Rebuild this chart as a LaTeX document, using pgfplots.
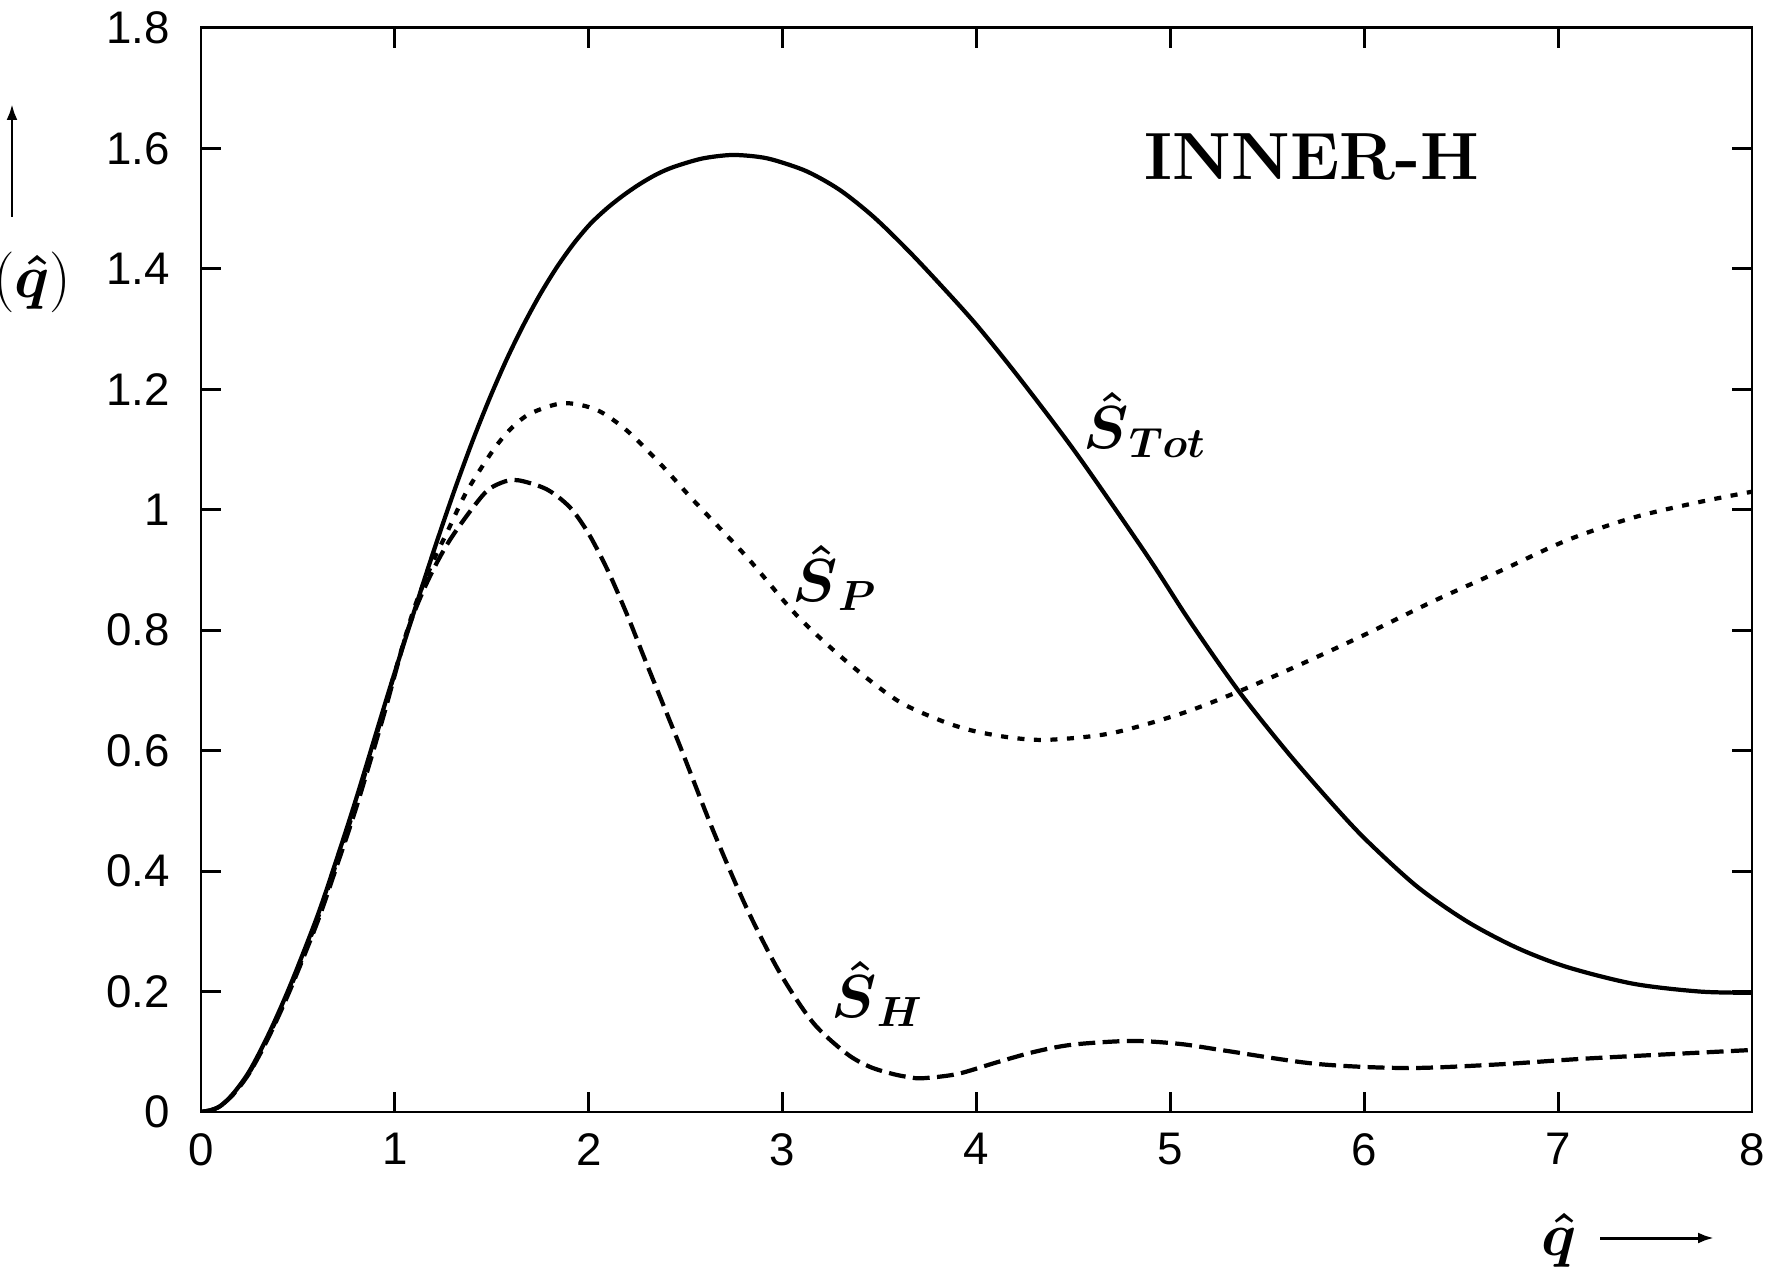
\documentclass[border=0pt]{standalone}
\usepackage{fontspec}
\usepackage{amsmath,amssymb}
\usepackage{pgfplots}
\pgfplotsset{compat=1.18}
\usetikzlibrary{arrows.meta}
\newfontfamily\tickfont{Liberation Sans}

\begin{document}
\begin{tikzpicture}
\begin{axis}[
  at={(0,0)}, anchor=south west,
  scale only axis,
  width=155.1mm, height=108.4mm,
  xmin=0, xmax=8, ymin=0, ymax=1.8,
  xtick={0,1,2,3,4,5,6,7,8},
  ytick={0,0.2,0.4,0.6,0.8,1,1.2,1.4,1.6,1.8},
  tick align=inside,
  major tick length=2mm,
  minor tick num=0,
  axis line style={line width=0.85pt},
  every tick/.style={black,line width=0.85pt},
  tick label style={font=\tickfont\fontsize{13}{15}\selectfont},
  /pgf/number format/assume math mode=true,
  xticklabel style={yshift=-0.9mm},
  yticklabel style={xshift=-1.9mm},
]
% S_Tot
\addplot[black, line width=1.2pt, smooth] coordinates {
(0,0) (0.05,0.003) (0.1,0.010) (0.165,0.030) (0.25,0.068) (0.35,0.13) (0.46,0.21)
(0.6,0.325) (0.7,0.42) (0.805,0.525) (0.978,0.708) (1.15,0.882) (1.233,0.963)
(1.318,1.042) (1.404,1.117) (1.49,1.186) (1.577,1.250) (1.662,1.306) (1.748,1.357)
(1.834,1.402) (1.92,1.441) (2.006,1.474) (2.092,1.500) (2.178,1.522) (2.264,1.541)
(2.35,1.557) (2.436,1.569) (2.582,1.583) (2.728,1.589) (2.85,1.587) (2.952,1.581)
(3.124,1.562) (3.295,1.531) (3.467,1.487) (3.64,1.433) (3.81,1.375) (4.0,1.307)
(4.223,1.218) (4.514,1.094) (4.878,0.925) (5.1,0.815) (5.35,0.700) (5.605,0.597)
(5.84,0.510) (6.012,0.451) (6.27,0.375) (6.527,0.317) (6.785,0.273) (7.043,0.241)
(7.387,0.213) (7.731,0.200) (8.0,0.198)};
% S_P
\addplot[black, line width=1.2pt, smooth, dash pattern=on 2pt off 2.7pt] coordinates {
(0,0) (0.05,0.003) (0.1,0.010) (0.165,0.029) (0.25,0.066) (0.35,0.127) (0.46,0.206)
(0.6,0.32) (0.7,0.415) (0.805,0.518) (0.95,0.675) (1.095,0.832) (1.198,0.915)
(1.267,0.961) (1.37,1.03) (1.507,1.099) (1.6,1.135) (1.7,1.160) (1.87,1.177)
(2.04,1.166) (2.195,1.132) (2.367,1.077) (2.539,1.016) (2.814,0.922) (3.072,0.825)
(3.33,0.748) (3.588,0.684) (3.8,0.652) (3.969,0.634) (4.17,0.622) (4.369,0.618)
(4.696,0.629) (5.06,0.662) (5.35,0.698) (5.67,0.743) (6.012,0.794) (6.355,0.848)
(6.699,0.898) (7.043,0.949) (7.387,0.987) (7.731,1.013) (8.0,1.03)};
% S_H
\addplot[black, line width=1.2pt, smooth, dash pattern=on 4.8pt off 2.1pt] coordinates {
(0,0) (0.05,0.003) (0.1,0.010) (0.165,0.029) (0.25,0.065) (0.35,0.125) (0.46,0.203)
(0.6,0.315) (0.7,0.408) (0.805,0.51) (0.94,0.656) (1.061,0.795) (1.164,0.878)
(1.284,0.95) (1.456,1.025) (1.55,1.045) (1.636,1.049) (1.783,1.034) (1.903,1.004)
(2.0,0.960) (2.1,0.898) (2.2,0.824) (2.299,0.744) (2.47,0.608) (2.642,0.467)
(2.814,0.339) (2.986,0.231) (3.158,0.148) (3.33,0.097) (3.45,0.075) (3.57,0.063)
(3.65,0.058) (3.72,0.056) (3.9,0.063) (4.1,0.082) (4.3,0.100) (4.5,0.112)
(4.8,0.118) (5.05,0.113) (5.28,0.102) (5.75,0.080) (6.22,0.073) (6.69,0.079)
(7.16,0.089) (8.0,0.103)};

\node at (axis cs:5.73,1.586) {\fontsize{19}{23}\selectfont\textbf{INNER-H}};
\node at (axis cs:4.87,1.141) {\fontsize{18}{22}\selectfont$\boldsymbol{\hat{S}}_{\boldsymbol{Tot}}$};
\node at (axis cs:3.27,0.887) {\fontsize{18}{22}\selectfont$\boldsymbol{\hat{S}}_{\boldsymbol P}$};
\node at (axis cs:3.49,0.196) {\fontsize{18}{22}\selectfont$\boldsymbol{\hat{S}}_{\boldsymbol H}$};
\end{axis}

% axis labels outside the frame
\node[anchor=east, inner sep=0pt] at (-12.9mm,83.5mm)
  {\fontsize{18}{22}\selectfont$\boldsymbol{\hat{S}}(\boldsymbol{\hat{q}})$};
\draw[line width=0.85pt, -{Latex[length=1.6mm,width=1.1mm]}] (-18.9mm,89.5mm) -- (-18.9mm,100.8mm);
\node at (135.8mm,-12.8mm) {\fontsize{18}{22}\selectfont$\boldsymbol{\hat{q}}$};
\draw[line width=0.85pt, -{Latex[length=1.6mm,width=1.1mm]}] (139.9mm,-12.6mm) -- (151.3mm,-12.6mm);

\pgfresetboundingbox
\useasboundingbox (-20.1mm,-15.8mm) rectangle (156.9mm,111.2mm);
\end{tikzpicture}
\end{document}
